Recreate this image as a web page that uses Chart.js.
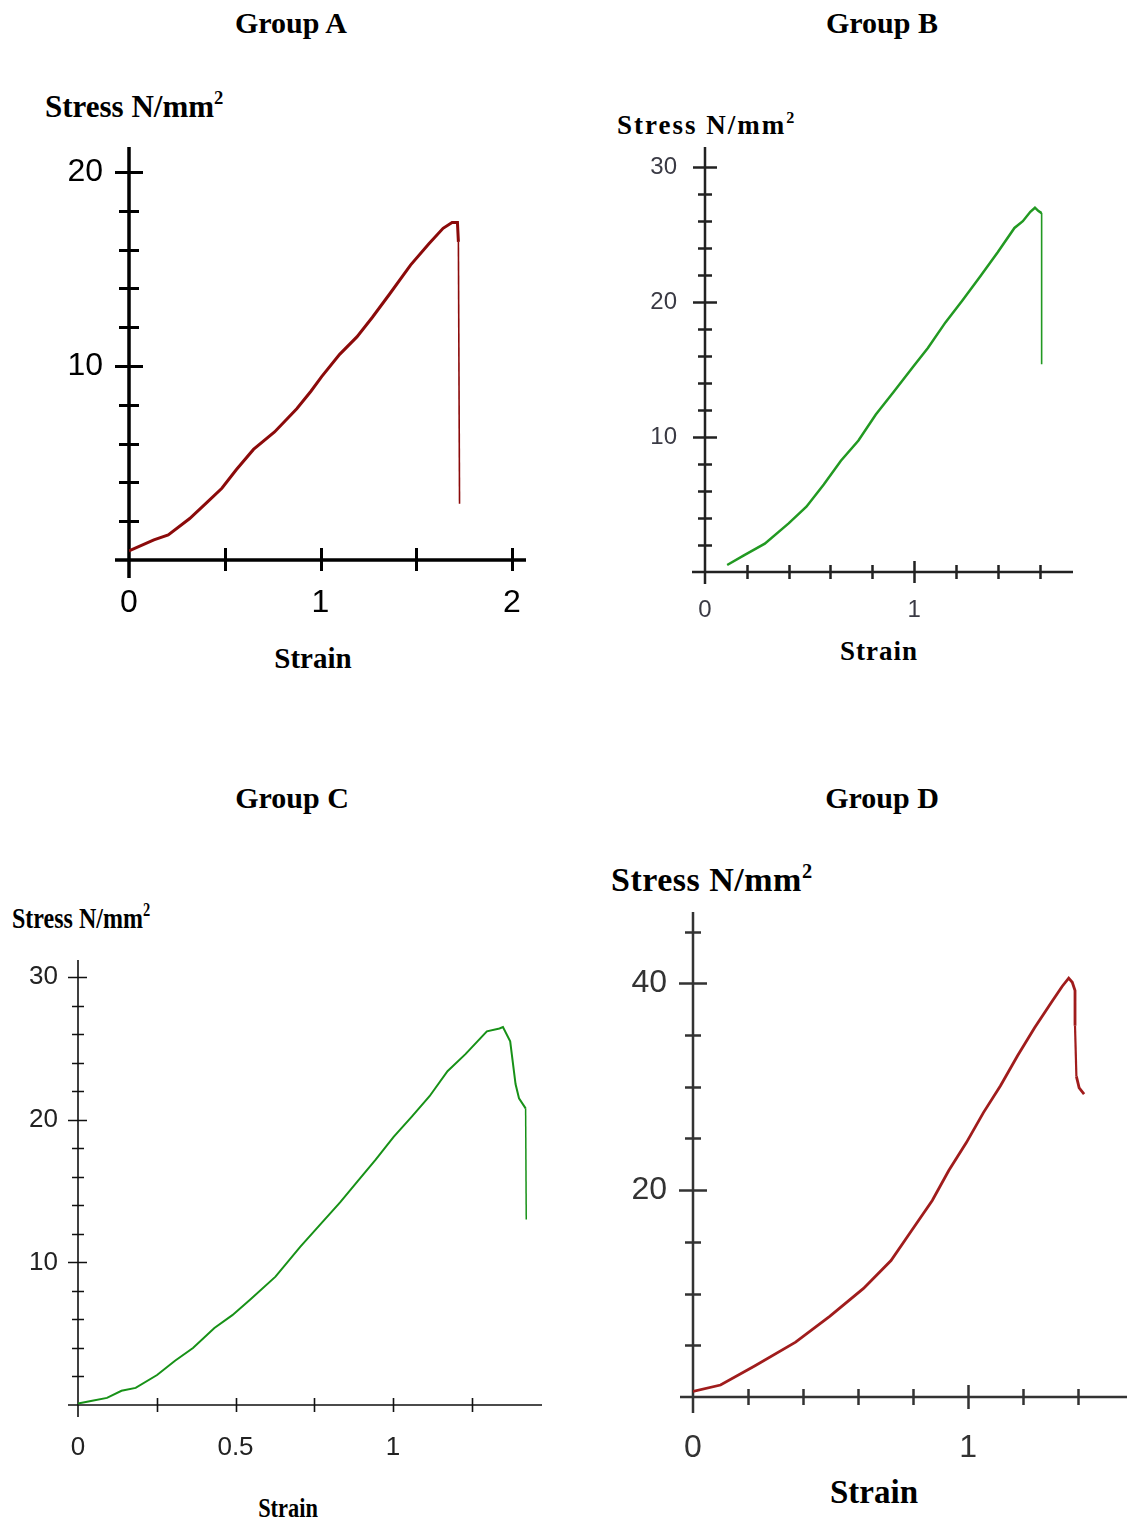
<!DOCTYPE html>
<html>
<head>
<meta charset="utf-8">
<script src="https://cdn.jsdelivr.net/npm/chart.js@4.4.0/dist/chart.umd.min.js"></script>
<style>
  body { margin: 0; background: #fff; width: 1127px; height: 1526px; position: relative; overflow: hidden; }
  canvas { position: absolute; }
  .t { position: absolute; font-family: "Liberation Serif", "Times New Roman", serif; font-weight: bold; color: #000; white-space: nowrap; line-height: 1; }
  .c { transform: translate(-50%, -50%); }
  .l { transform: translateY(-50%); transform-origin: left center; }
  .t sup { font-size: 0.6em; vertical-align: 0.65em; line-height: 0; }
</style>
</head>
<body>

<div class="t c" style="left:291px;top:23px;font-size:30px">Group A</div>
<div class="t c" style="left:882px;top:23px;font-size:30px">Group B</div>
<div class="t c" style="left:292px;top:798px;font-size:30px">Group C</div>
<div class="t c" style="left:882px;top:798px;font-size:30px">Group D</div>

<div class="t l" style="left:45px;top:106px;font-size:31px">Stress N/mm<sup>2</sup></div>
<div class="t l" style="left:617px;top:125px;font-size:27px;letter-spacing:2px">Stress N/mm<sup>2</sup></div>
<div class="t l" style="left:12px;top:918px;font-size:30px;transform:translateY(-50%) scaleX(0.8)">Stress N/mm<sup>2</sup></div>
<div class="t l" style="left:611px;top:880px;font-size:34px;letter-spacing:0.5px">Stress N/mm<sup>2</sup></div>

<div class="t c" style="left:313px;top:658px;font-size:29px">Strain</div>
<div class="t c" style="left:879px;top:651px;font-size:27px;letter-spacing:1px">Strain</div>
<div class="t c" style="left:288px;top:1508px;font-size:28px;transform:translate(-50%,-50%) scaleX(0.8)">Strain</div>
<div class="t c" style="left:874px;top:1492px;font-size:33px">Strain</div>

<canvas id="chartA"></canvas>
<canvas id="chartB"></canvas>
<canvas id="chartC"></canvas>
<canvas id="chartD"></canvas>

<script>
// Group A
const aStrain = [0, 0.13, 0.205, 0.317, 0.41, 0.485, 0.56, 0.65, 0.76, 0.876, 0.95, 1.006, 1.10, 1.19, 1.27, 1.36, 1.47, 1.566, 1.64, 1.687, 1.715, 1.72, 1.726];
const aStress = [0.47, 1.04, 1.29, 2.14, 3.0, 3.7, 4.65, 5.7, 6.6, 7.8, 8.7, 9.45, 10.6, 11.5, 12.5, 13.7, 15.2, 16.3, 17.1, 17.4, 17.4, 16.4, 2.9];
const aXTicks = [0, 1, 2];
const aYTicks = [10, 20];

// Group B
const bStrain = [0.106, 0.186, 0.286, 0.40, 0.485, 0.568, 0.65, 0.734, 0.817, 0.90, 1.0, 1.066, 1.15, 1.23, 1.316, 1.40, 1.48, 1.52, 1.556, 1.578, 1.595, 1.61, 1.61];
const bStress = [0.52, 1.23, 2.1, 3.6, 4.84, 6.48, 8.25, 9.75, 11.67, 13.3, 15.3, 16.6, 18.5, 20.1, 21.9, 23.7, 25.5, 26.0, 26.7, 27.0, 26.75, 26.6, 15.4];
const bXTicks = [0, 1];
const bYTicks = [10, 20, 30];

// Group C
const cStrain = [0, 0.041, 0.092, 0.138, 0.183, 0.251, 0.308, 0.365, 0.433, 0.49, 0.547, 0.627, 0.706, 0.775, 0.832, 0.888, 0.945, 1.002, 1.059, 1.116, 1.173, 1.23, 1.298, 1.338, 1.349, 1.372, 1.389, 1.40, 1.421, 1.423];
const cStress = [0.1, 0.28, 0.5, 1.0, 1.2, 2.1, 3.1, 4.0, 5.4, 6.3, 7.4, 9.0, 11.1, 12.8, 14.2, 15.7, 17.2, 18.8, 20.2, 21.65, 23.4, 24.6, 26.2, 26.4, 26.5, 25.5, 22.5, 21.5, 20.8, 13.0];
const cXTicks = [0, 0.5, 1];
const cYTicks = [10, 20, 30];

// Group D
const dStrain = [0, 0.1, 0.224, 0.373, 0.497, 0.62, 0.72, 0.795, 0.87, 0.93, 0.994, 1.056, 1.118, 1.18, 1.242, 1.304, 1.342, 1.366, 1.379, 1.389, 1.389, 1.394, 1.404, 1.422];
const dStress = [0.54, 1.16, 3.0, 5.3, 7.8, 10.5, 13.2, 16.1, 19.0, 21.9, 24.6, 27.5, 30.1, 33.0, 35.7, 38.2, 39.7, 40.5, 40.1, 39.3, 35.9, 31.0, 29.9, 29.3];
const dXTicks = [0, 1];
const dYTicks = [20, 40];

// axes crossing at the origin, with ticks through the line
const crossAxes = {
  id: 'crossAxes',
  beforeDatasetsDraw(chart, args, o) {
    const ctx = chart.ctx;
    const x = chart.scales.x, y = chart.scales.y;
    const x0 = x.getPixelForValue(0), y0 = y.getPixelForValue(0);
    ctx.save();
    ctx.strokeStyle = o.color;
    ctx.lineWidth = o.axisWidth;
    ctx.beginPath();
    ctx.moveTo(x0 - o.extX, y0); ctx.lineTo(x.right, y0);
    ctx.moveTo(x0, y0 + o.extY); ctx.lineTo(x0, y.top);
    ctx.stroke();
    ctx.lineWidth = o.tickWidth;
    ctx.beginPath();
    for (let v = o.yStep; v <= y.max + 1e-9; v += o.yStep) {
      const p = Math.round(y.getPixelForValue(v)) + 0.5;
      const big = o.yMajor.some(m => Math.abs(m - v) < 1e-6);
      const len = big ? o.yMajorLen : o.yMinorLen;
      ctx.moveTo(x0 - len[0], p); ctx.lineTo(x0 + len[1], p);
    }
    for (let v = o.xStep; v <= x.max + 1e-9; v += o.xStep) {
      const p = Math.round(x.getPixelForValue(v)) + 0.5;
      const big = o.xMajor.some(m => Math.abs(m - v) < 1e-6);
      const len = big ? o.xMajorLen : o.xMinorLen;
      ctx.moveTo(p, y0 - len[0]); ctx.lineTo(p, y0 + len[1]);
    }
    ctx.stroke();
    ctx.restore();
  }
};

// fixed axis sizes so the plot area lands where the reference has it
function fixBox(s, w, h) {
  if (w !== null) s.width = w;
  if (h !== null) s.height = h;
  s.paddingTop = 0; s.paddingBottom = 0; s.paddingLeft = 0; s.paddingRight = 0;
}

function makePanel(cfg) {
  const cv = document.getElementById(cfg.id);
  const [L, T, R, B] = cfg.area;
  const [yw, pt, pr, xh] = cfg.margin;
  cv.width = R - L + yw + pr;
  cv.height = B - T + pt + xh;
  cv.style.left = (L - yw) + 'px';
  cv.style.top = (T - pt) + 'px';
  const font = { family: 'Liberation Sans, Arial, sans-serif', size: cfg.tickSize };
  return new Chart(cv, {
    type: 'scatter',
    data: {
      datasets: [{
        data: cfg.xs.map((v, i) => ({ x: v, y: cfg.ys[i] })),
        showLine: true,
        borderColor: cfg.color,
        borderWidth: cfg.lineWidth,
        pointRadius: 0,
        tension: 0,
        segment: {
          borderWidth: c => (Math.abs(c.p1.x - c.p0.x) < 3 && c.p1.y - c.p0.y > 40) ? cfg.dropWidth : undefined
        }
      }]
    },
    options: {
      responsive: false,
      animation: false,
      layout: { padding: { top: pt, right: pr, left: 0, bottom: 0 } },
      plugins: {
        legend: { display: false },
        tooltip: { enabled: false },
        crossAxes: cfg.axes
      },
      scales: {
        x: {
          type: 'linear', min: 0, max: cfg.xMax,
          afterFit: s => fixBox(s, null, xh),
          afterBuildTicks: s => { s.ticks = cfg.xTicks.map(v => ({ value: v })); },
          grid: { display: false, drawTicks: false },
          border: { display: false },
          ticks: { padding: cfg.xPad, font: font, color: cfg.tickColor, maxRotation: 0, autoSkip: false, callback: v => String(v) }
        },
        y: {
          type: 'linear', min: 0, max: cfg.yMax,
          afterFit: s => fixBox(s, yw, null),
          afterBuildTicks: s => { s.ticks = cfg.yTicks.map(v => ({ value: v })); },
          grid: { display: false, drawTicks: false },
          border: { display: false },
          ticks: { padding: cfg.yPad, font: font, color: cfg.tickColor, autoSkip: false, callback: v => String(v) }
        }
      }
    },
    plugins: [crossAxes]
  });
}

makePanel({
  id: 'chartA', area: [129, 147, 526, 560], margin: [90, 10, 12, 70],
  xMax: 2.073, yMax: 21.29, xTicks: aXTicks, yTicks: aYTicks, xs: aStrain, ys: aStress,
  color: '#8b0a0a', lineWidth: 3, dropWidth: 1.6, tickSize: 32, tickColor: '#000', xPad: 24, yPad: 26,
  axes: { color: '#000', axisWidth: 3.5, tickWidth: 3, extX: 14, extY: 18,
    yStep: 2, yMajor: [10, 20], yMinorLen: [10, 10], yMajorLen: [14, 14],
    xStep: 0.5, xMajor: [], xMinorLen: [12, 11], xMajorLen: [12, 11] }
});

makePanel({
  id: 'chartB', area: [705, 147, 1073, 572], margin: [90, 10, 12, 70],
  xMax: 1.76, yMax: 31.5, xTicks: bXTicks, yTicks: bYTicks, xs: bStrain, ys: bStress,
  color: '#229922', lineWidth: 2.5, dropWidth: 1.6, tickSize: 24, tickColor: '#3a3a44', xPad: 24, yPad: 28,
  axes: { color: '#222', axisWidth: 2.5, tickWidth: 2.5, extX: 13, extY: 12,
    yStep: 2, yMajor: [10, 20, 30], yMinorLen: [7, 7], yMajorLen: [12, 12],
    xStep: 0.2, xMajor: [1], xMinorLen: [7, 7], xMajorLen: [11, 11] }
});

makePanel({
  id: 'chartC', area: [78, 960, 542, 1405], margin: [70, 10, 12, 70],
  xMax: 1.473, yMax: 31.2, xTicks: cXTicks, yTicks: cYTicks, xs: cStrain, ys: cStress,
  color: '#179117', lineWidth: 2, dropWidth: 1.5, tickSize: 26, tickColor: '#222', xPad: 27, yPad: 20,
  axes: { color: '#111', axisWidth: 1.6, tickWidth: 1.6, extX: 10, extY: 12,
    yStep: 2, yMajor: [10, 20, 30], yMinorLen: [6, 6], yMajorLen: [10, 9],
    xStep: 0.25, xMajor: [], xMinorLen: [7, 7], xMajorLen: [7, 7] }
});

makePanel({
  id: 'chartD', area: [693, 912, 1127, 1397], margin: [90, 10, 0, 70],
  xMax: 1.578, yMax: 46.9, xTicks: dXTicks, yTicks: dYTicks, xs: dStrain, ys: dStress,
  color: '#a01c1c', lineWidth: 2.8, dropWidth: 2.2, tickSize: 32, tickColor: '#333', xPad: 32, yPad: 26,
  axes: { color: '#333', axisWidth: 2.5, tickWidth: 2.5, extX: 13, extY: 16,
    yStep: 5, yMajor: [20, 40], yMinorLen: [8, 8], yMajorLen: [14, 14],
    xStep: 0.2, xMajor: [1], xMinorLen: [8, 8], xMajorLen: [12, 12] }
});
</script>
</body>
</html>
